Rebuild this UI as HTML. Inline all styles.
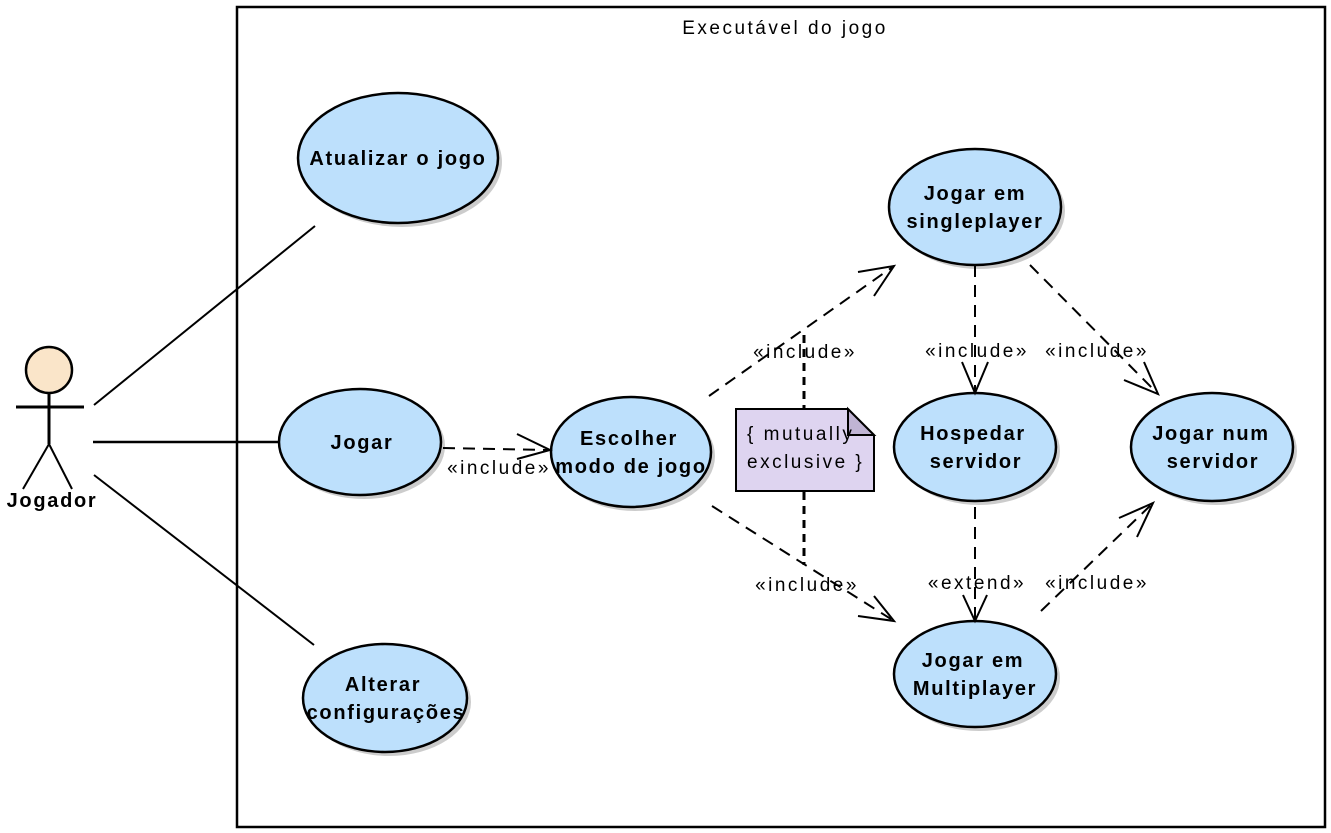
<!DOCTYPE html>
<html><head><meta charset="utf-8"><style>
html,body{margin:0;padding:0;background:#fff;width:1331px;height:833px;overflow:hidden}
svg{display:block}
.b{font-family:"Liberation Sans",sans-serif;font-weight:bold;font-size:20px;letter-spacing:1.7px;fill:#000}
.l{font-family:"Liberation Sans",sans-serif;font-size:19px;letter-spacing:2.5px;fill:#000}
.e{fill:#bde0fc;stroke:#000;stroke-width:2.5}
.sh{fill:#ccc}
.d{stroke:#000;stroke-width:2;fill:none;stroke-dasharray:12 8}
.a{stroke:#000;stroke-width:2;fill:none}
</style></head><body>
<svg width="1331" height="833" viewBox="0 0 1331 833">
<rect x="237" y="7" width="1088" height="820" fill="#fff" stroke="#000" stroke-width="2.5"/>
<text x="785" y="34" text-anchor="middle" class="l">Executável do jogo</text>

<circle cx="49" cy="370" r="23" fill="#fae5c9" stroke="#000" stroke-width="2.5"/>
<line x1="49" y1="393" x2="49" y2="444" stroke="#000" stroke-width="3"/>
<line x1="16" y1="407" x2="84" y2="407" stroke="#000" stroke-width="3"/>
<line x1="49" y1="444" x2="23" y2="489" stroke="#000" stroke-width="2"/>
<line x1="49" y1="444" x2="72" y2="489" stroke="#000" stroke-width="2"/>
<text x="52" y="507" text-anchor="middle" class="b">Jogador</text>

<line x1="94" y1="405" x2="315" y2="226" stroke="#000" stroke-width="2"/>
<line x1="93" y1="442" x2="280" y2="442" stroke="#000" stroke-width="2.5"/>
<line x1="94" y1="475" x2="314" y2="645" stroke="#000" stroke-width="2"/>

<g>
<ellipse class="sh" cx="402" cy="162" rx="100" ry="65"/>
<ellipse class="e" cx="398" cy="158" rx="100" ry="65"/>
<text x="398" y="165" text-anchor="middle" class="b">Atualizar o jogo</text>

<ellipse class="sh" cx="364" cy="446" rx="81" ry="53"/>
<ellipse class="e" cx="360" cy="442" rx="81" ry="53"/>
<text x="362" y="449" text-anchor="middle" class="b">Jogar</text>

<ellipse class="sh" cx="635" cy="456" rx="80" ry="55"/>
<ellipse class="e" cx="631" cy="452" rx="80" ry="55"/>
<text x="629" y="445" text-anchor="middle" class="b">Escolher</text>
<text x="631" y="473" text-anchor="middle" class="b">modo de jogo</text>

<ellipse class="sh" cx="389" cy="702" rx="82" ry="54"/>
<ellipse class="e" cx="385" cy="698" rx="82" ry="54"/>
<text x="383" y="691" text-anchor="middle" class="b">Alterar</text>
<text x="386" y="719" text-anchor="middle" class="b">configurações</text>

<ellipse class="sh" cx="979" cy="211" rx="86" ry="58"/>
<ellipse class="e" cx="975" cy="207" rx="86" ry="58"/>
<text x="975" y="200" text-anchor="middle" class="b">Jogar em</text>
<text x="975" y="228" text-anchor="middle" class="b">singleplayer</text>

<ellipse class="sh" cx="979" cy="451" rx="81" ry="54"/>
<ellipse class="e" cx="975" cy="447" rx="81" ry="54"/>
<text x="973" y="440" text-anchor="middle" class="b">Hospedar</text>
<text x="976" y="468" text-anchor="middle" class="b">servidor</text>

<ellipse class="sh" cx="1216" cy="451" rx="81" ry="54"/>
<ellipse class="e" cx="1212" cy="447" rx="81" ry="54"/>
<text x="1211" y="440" text-anchor="middle" class="b">Jogar num</text>
<text x="1213" y="468" text-anchor="middle" class="b">servidor</text>

<ellipse class="sh" cx="979" cy="678" rx="81" ry="53"/>
<ellipse class="e" cx="975" cy="674" rx="81" ry="53"/>
<text x="973" y="667" text-anchor="middle" class="b">Jogar em</text>
<text x="975" y="695" text-anchor="middle" class="b">Multiplayer</text>
</g>

<path d="M443 448 L550 450" class="d" stroke-width="3"/>
<path d="M517 434 L550 450 L517 459" class="a"/>
<text x="499" y="474" text-anchor="middle" class="l">«include»</text>

<path d="M709 396 L894 266" class="d"/>
<path d="M858 272 L894 266 L874 296" class="a"/>
<text x="805" y="358" text-anchor="middle" class="l">«include»</text>

<path d="M712 506 L894 621" class="d"/>
<path d="M858 616 L894 621 L874 596" class="a"/>
<text x="807" y="591" text-anchor="middle" class="l">«include»</text>

<line x1="804" y1="335" x2="804" y2="408" stroke="#000" stroke-width="3" stroke-dasharray="8 6"/>
<line x1="804" y1="492" x2="804" y2="565" stroke="#000" stroke-width="3" stroke-dasharray="8 6"/>

<path d="M736 409 L848 409 L874 435 L874 491 L736 491 Z" fill="#ded4f0" stroke="#000" stroke-width="2"/>
<path d="M848 409 L848 435 L874 435 Z" fill="#c0b4d4" stroke="#000" stroke-width="2"/>
<text x="747" y="440" class="l">{ mutually</text>
<text x="747" y="468" class="l">exclusive }</text>

<path d="M975 265 L975 392" class="d" stroke-width="3"/>
<path d="M962 362 L975 393 L988 362" class="a"/>
<text x="977" y="357" text-anchor="middle" class="l">«include»</text>

<path d="M1030 265 L1158 394" class="d"/>
<path d="M1124 380 L1158 394 L1144 362" class="a"/>
<text x="1097" y="357" text-anchor="middle" class="l">«include»</text>

<path d="M975 507 L975 620" class="d" stroke-width="3"/>
<path d="M963 595 L975 621 L987 595" class="a"/>
<text x="977" y="589" text-anchor="middle" class="l">«extend»</text>

<path d="M1041 611 L1153 503" class="d"/>
<path d="M1119 518 L1153 503 L1137 537" class="a"/>
<text x="1097" y="589" text-anchor="middle" class="l">«include»</text>
</svg>
</body></html>
